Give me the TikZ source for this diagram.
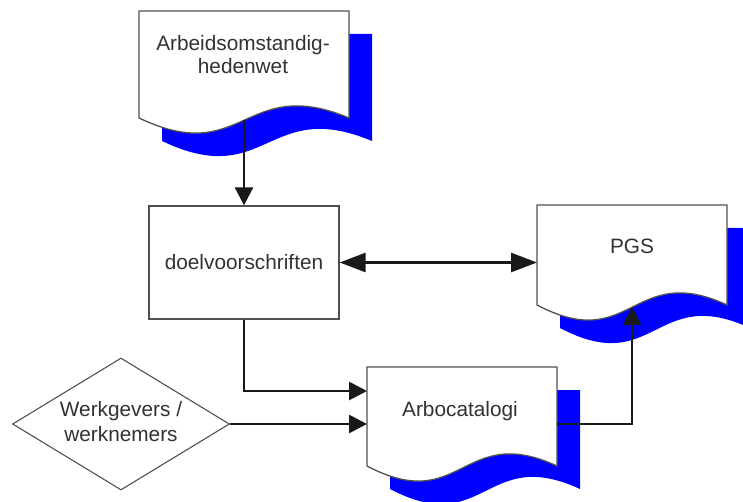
\documentclass[tikz,border=0pt]{standalone}
\usepackage{fontspec}
\setmainfont{Liberation Sans}
\usetikzlibrary{arrows.meta,calc,shapes.geometric}
\definecolor{shadowblue}{RGB}{0,0,255}
\definecolor{outline}{RGB}{80,80,80}
\definecolor{txt}{RGB}{50,50,50}
\newcommand\wavedoc[3]{%
  \path[#3] ($(#1.north west)+(#2)$) -- ($(#1.north east)+(#2)$) -- ($(#1.south east)+(#2)$)
    .. controls ($(#1.south)+(#2)+(0,-44)$) and ($(#1.south)+(#2)+(0,50)$) .. ($(#1.south west)+(#2)$) -- cycle;}
\tikzset{
  docbox/.style={inner sep=0pt, outer sep=0pt},
  docshadow/.style={fill=shadowblue},
  docface/.style={fill=white, draw=outline, line width=1.3pt, line join=miter},
  rectbox/.style={draw=outline, fill=white, line width=1.3pt, inner sep=0pt,
    minimum width=190pt, minimum height=113pt, text=txt,
    font=\fontsize{20.8}{23}\selectfont},
  diabox/.style={shape=diamond, draw=outline, fill=white, line width=1.1pt, inner sep=0pt,
    aspect=1.644, minimum width=217pt, minimum height=132pt, text=txt,
    font=\fontsize{20.8}{25.7}\selectfont},
  lbl/.style={inner sep=0pt, text=txt, font=\fontsize{20.8}{23}\selectfont},
  conn/.style={draw=black!90, line width=2.8pt, -{Triangle[length=18pt,width=18pt]}},
  dblconn/.style={draw=black!90, line width=2.8pt,
    {Triangle[length=26pt,width=19pt]}-{Triangle[length=26pt,width=19pt]}},
}
\begin{document}
\begin{tikzpicture}[x=1pt,y=-1pt]
\useasboundingbox (0,0) rectangle (743,502);
% shape holders
\node[docbox, minimum width=210pt, minimum height=107pt] (doc1) at (244,64.5) {};
\node[docbox, minimum width=190pt, minimum height=100pt] (pgs) at (632,255) {};
\node[docbox, minimum width=190pt, minimum height=99pt] (arbo) at (462,416.5) {};
% shadows
\wavedoc{doc1}{23,23}{docshadow}
\wavedoc{pgs}{23,23}{docshadow}
\wavedoc{arbo}{23,23}{docshadow}
% faces
\wavedoc{doc1}{0,0}{docface}
\wavedoc{pgs}{0,0}{docface}
\wavedoc{arbo}{0,0}{docface}
% texts of documents
\node[lbl, anchor=base] (doc1t) at (243,51) {\begin{tabular}[t]{@{}c@{}}Arbeidsomstandig-\\hedenwet\end{tabular}};
\node[lbl, anchor=base] (pgst) at (632,254) {PGS};
\node[lbl, anchor=base] (arbot) at (460,416) {Arbocatalogi};
% rectangle and diamond
\node[rectbox] (rect) at (244,262.5) {doelvoorschriften};
\node[diabox] (dia) at (121,424) {\begin{tabular}{@{}c@{}}Werkgevers /\\werknemers\end{tabular}};
% connector points
\coordinate (doc1w) at ($(doc1.south)+(0,2)$);
\coordinate (pgsw) at ($(pgs.south)+(0,2)$);
\coordinate (arboin) at ($(arbo.north west)+(0,24)$);
% connectors
\draw[conn] (doc1w) -- (rect.north);
\draw[dblconn] (rect.east) -- (rect.east -| pgs.west);
\draw[conn] (rect.south) |- (arboin);
\draw[conn] (dia.east) -- (dia.east -| arbo.west);
\draw[conn] (dia.east -| arbo.east) -| (pgsw);
\end{tikzpicture}
\end{document}
